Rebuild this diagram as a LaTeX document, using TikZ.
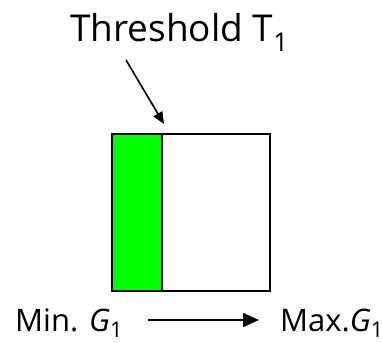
\documentclass[tikz,border=0pt]{standalone}
\usepackage{fontspec}
\setmainfont{Open Sans}
\usetikzlibrary{arrows.meta}
\begin{document}
\begin{tikzpicture}[x=1pt,y=-1pt,
  lbl/.style={inner sep=0pt, anchor=base west},
  arr/.style={line width=1.6pt, -{Triangle[length=16pt,width=14pt]}}]
\useasboundingbox (0,0) rectangle (382,342);
\fill[green] (112,134) rectangle (162,291);
\draw[line width=2.6pt] (112,134) rectangle (270,291);
\draw[line width=2.4pt] (162,134) -- (162,291);
\coordinate (bx) at (164,124);
\node[lbl, font=\fontsize{37}{40}\selectfont] (thr) at (70,42) {Threshold T\textsubscript{1}};
\coordinate (ts) at (126,60);
\draw[line width=1.6pt, -{Triangle[length=12pt,width=10pt]}] (ts) -- (bx);
\node[lbl, font=\fontsize{31}{34}\selectfont] (mn) at (15,331) {Min. \textit{G}\textsubscript{1}};
\node[lbl, font=\fontsize{31}{34}\selectfont] (mx) at (280,331) {Max.\textit{G}\textsubscript{1}};
\coordinate (a1) at (148,320);
\coordinate (a2) at (259,320);
\draw[arr] (a1) -- (a2);
\end{tikzpicture}
\end{document}
